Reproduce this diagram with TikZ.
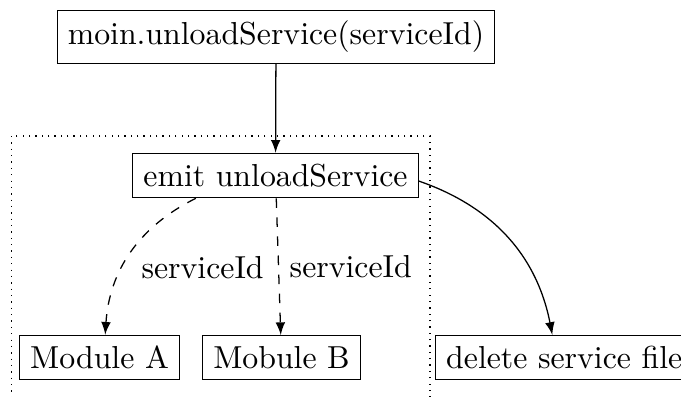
\documentclass[tikz,border=0pt]{standalone}
\begin{document}
\begin{tikzpicture}[x=0.3145pt,y=-0.3145pt,
  box/.style={draw, inner sep=3.33pt, font=\normalsize},
  lab/.style={font=\normalsize, inner sep=3.33pt},
  arr/.style={-latex, line width=0.4pt},
  frame/.style={dash pattern=on 0.4pt off 1.6pt, line width=0.4pt}]
\clip (0,0) rectangle (681,396);
\useasboundingbox (0,0) rectangle (681,396);
\node[box] (moin) at (276,37) {moin.unloadService(serviceId)};
\node[box] (emit) at (275.5,175.5) {emit unloadService};
\node[box] (modA) at (99.5,357.5) {Module A};
\node[box] (modB) at (281.5,357.5) {Mobule B};
\node[box, anchor=west] (del) at (435,357.5) {delete service file};
\coordinate (fa) at (11.5,136);
\coordinate (fb) at (430,420);
\draw[frame] (fa) rectangle (fb);
\draw[arr] (moin) -- (emit);
\draw[arr, dashed] (emit) to[bend right] node[lab, right, pos=0.6, xshift=2.5pt] {serviceId} (modA);
\draw[arr, dashed] (emit) -- node[lab, right, pos=0.5] {serviceId} (modB);
\draw[arr] (emit) to[bend left] (del);
\end{tikzpicture}
\end{document}
